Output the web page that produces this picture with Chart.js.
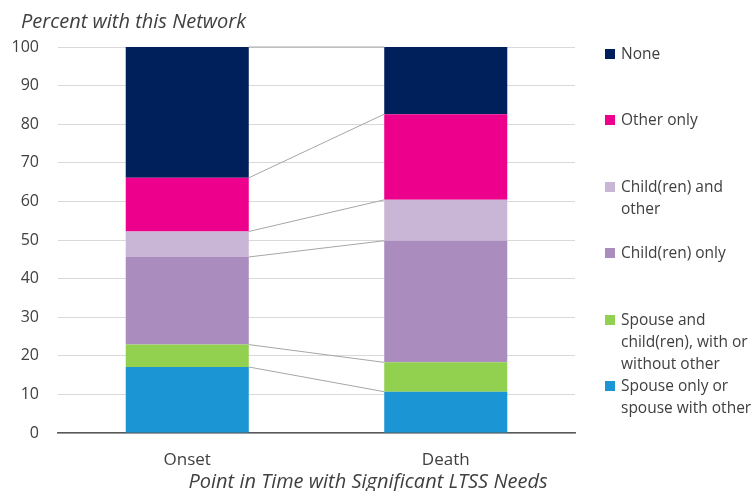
<!DOCTYPE html>
<html>
<head>
<meta charset="utf-8">
<script src="https://cdn.jsdelivr.net/npm/chart.js@4/dist/chart.umd.min.js"></script>
<style>
  html, body { margin: 0; padding: 0; background: #fff; }
  #wrap { position: relative; width: 756px; height: 491px; overflow: hidden; }
  #chart { position: absolute; left: 0; top: 0; }
  #legend { position: absolute; left: 0; top: 0; font-family: "Open Sans", sans-serif; font-size: 15.5px; color: #404040; }
  .item { position: absolute; left: 605px; }
  .box { position: absolute; left: 0; width: 10px; height: 10px; }
  .txt { position: absolute; left: 16px; line-height: 22px; white-space: nowrap; }
</style>
</head>
<body>
<div id="wrap">
  <canvas id="chart" width="756" height="491"></canvas>
  <div id="legend"></div>
</div>
<script>
// Points in time
const categories = ['Onset', 'Death'];

// Network types, bottom of the stack first
const seriesNames = [
  'Spouse only or spouse with other',
  'Spouse and child(ren), with or without other',
  'Child(ren) only',
  'Child(ren) and other',
  'Other only',
  'None'
];
// Legend text, broken into lines
const legendLines = [
  ['Spouse only or', 'spouse with other'],
  ['Spouse and', 'child(ren), with or', 'without other'],
  ['Child(ren) only'],
  ['Child(ren) and', 'other'],
  ['Other only'],
  ['None']
];

// Percent with each network (Onset, Death)
const spouseOnly     = [17.1, 10.7];
const spouseChildren = [5.8, 7.6];
const childrenOnly   = [22.7, 31.5];
const childrenOther  = [6.6, 10.6];
const otherOnly      = [13.9, 22.2];
const noneNetwork    = [33.9, 17.4];

const yTicks = [0, 10, 20, 30, 40, 50, 60, 70, 80, 90, 100];

const seriesValues = [spouseOnly, spouseChildren, childrenOnly, childrenOther, otherOnly, noneNetwork];
const seriesColors = ['#1B95D3', '#92D050', '#AA8CBF', '#C9B5D6', '#EC008C', '#00205C'];

const FONT = '"Open Sans", sans-serif';

// Grey connectors between the tops of matching segments
const seriesLines = {
  id: 'seriesLines',
  afterDatasetsDraw(chart) {
    const ctx = chart.ctx;
    ctx.save();
    ctx.strokeStyle = '#A6A6A6';
    ctx.lineWidth = 1;
    chart.data.datasets.forEach((ds, i) => {
      const bars = chart.getDatasetMeta(i).data;
      for (let k = 0; k < bars.length - 1; k++) {
        const a = bars[k], b = bars[k + 1];
        ctx.beginPath();
        ctx.moveTo(a.x + a.width / 2, a.y);
        ctx.lineTo(b.x - b.width / 2, b.y);
        ctx.stroke();
      }
    });
    ctx.restore();
  }
};

// Axis captions
const captions = {
  id: 'captions',
  afterDraw(chart) {
    const ctx = chart.ctx;
    ctx.save();
    ctx.fillStyle = '#404040';
    ctx.font = 'italic 20px ' + FONT;
    ctx.textBaseline = 'alphabetic';
    ctx.textAlign = 'left';
    ctx.fillText('Percent with this Network', 21, 28);
    ctx.textAlign = 'center';
    ctx.fillText('Point in Time with Significant LTSS Needs', 368, 488);
    ctx.restore();
  }
};

new Chart(document.getElementById('chart'), {
  type: 'bar',
  data: {
    labels: categories,
    datasets: seriesNames.map((name, i) => ({
      label: name,
      data: seriesValues[i],
      backgroundColor: seriesColors[i],
      borderWidth: 0,
      categoryPercentage: 1,
      barPercentage: 0.476
    }))
  },
  options: {
    responsive: false,
    animation: false,
    layout: { padding: { left: 0, right: 181, top: 47, bottom: 0 } },
    plugins: {
      legend: { display: false },
      tooltip: { enabled: false },
      title: { display: false }
    },
    scales: {
      x: {
        stacked: true,
        grid: { display: false, drawTicks: false },
        border: { display: true, color: '#595959', width: 1.5 },
        ticks: { color: '#404040', font: { family: FONT, size: 17 }, padding: 17 },
        afterFit(scale) { scale.height = 58; }
      },
      y: {
        stacked: true,
        min: 0,
        max: 100,
        afterBuildTicks(scale) { scale.ticks = yTicks.map(v => ({ value: v })); },
        grid: { color: '#D9D9D9', drawTicks: false },
        border: { display: false },
        ticks: { color: '#404040', font: { family: FONT, size: 16 }, padding: 19 },
        afterFit(scale) { scale.width = 58; }
      }
    }
  },
  plugins: [seriesLines, captions]
});

// Legend, top entry first
const legend = document.getElementById('legend');
const order = seriesNames.map((_, i) => i).reverse();
order.forEach((idx, pos) => {
  const item = document.createElement('div');
  item.className = 'item';
  item.style.top = (42 + pos * 66.4) + 'px';
  const box = document.createElement('div');
  box.className = 'box';
  box.style.top = '7px';
  box.style.background = seriesColors[idx];
  const txt = document.createElement('div');
  txt.className = 'txt';
  txt.innerHTML = legendLines[idx].join('<br>');
  item.appendChild(box);
  item.appendChild(txt);
  legend.appendChild(item);
});
</script>
</body>
</html>
